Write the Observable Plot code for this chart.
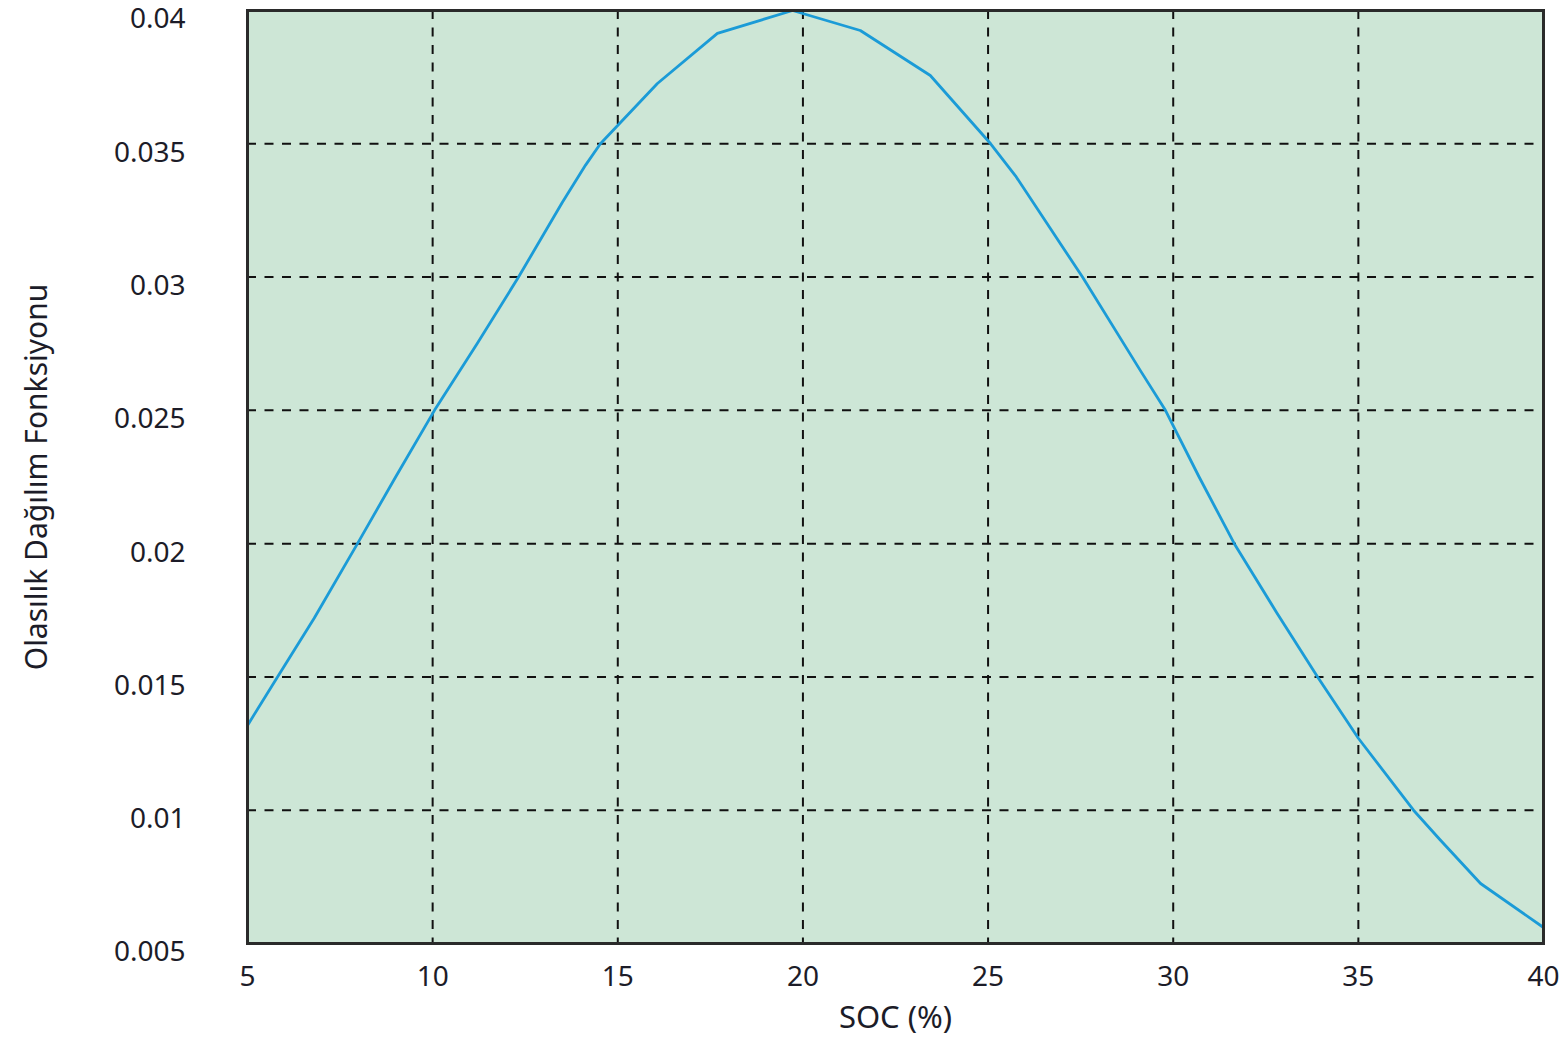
<!DOCTYPE html>
<html>
<head>
<meta charset="utf-8">
<script src="https://cdn.jsdelivr.net/npm/d3@7"></script>
<script src="https://cdn.jsdelivr.net/npm/@observablehq/plot@0.6"></script>
<style>
  html, body { margin: 0; padding: 0; background: #fff; }
  #chart { width: 1566px; height: 1046px; }
</style>
</head>
<body>
<div id="chart"></div>
<script>
// Data
const socValues = [5, 5.81, 6.8, 7.97, 9.0, 10.05, 11.2, 12.32, 13.5, 14.13, 14.53, 16.07, 17.69, 19.72, 21.55, 23.44, 25.07, 25.74, 27.55, 29.11, 29.79, 30.7, 31.65, 32.8, 33.9, 35.0, 36.49, 37.2, 38.3, 40];
const pdfValues = [0.01318, 0.015, 0.0172, 0.02, 0.0225, 0.025, 0.0275, 0.03, 0.0328, 0.0342, 0.035, 0.03726, 0.03914, 0.04, 0.03925, 0.03756, 0.035, 0.0338, 0.03, 0.0265, 0.025, 0.0225, 0.02, 0.0174, 0.015, 0.0127, 0.01, 0.0089, 0.00725, 0.0056];
const xTicks = [5, 10, 15, 20, 25, 30, 35, 40];
const yTicks = [0.005, 0.01, 0.015, 0.02, 0.025, 0.03, 0.035, 0.04];
const yTickLabels = ["0.005", "0.01", "0.015", "0.02", "0.025", "0.03", "0.035", "0.04"];
const xLabel = "SOC (%)";
const yLabel = "Olasılık Dağılım Fonksiyonu";

const data = socValues.map((x, i) => ({x, y: pdfValues[i]}));
const xGrid = xTicks.slice(1, -1);
const yGrid = yTicks.slice(1, -1);

const font = "'Noto Sans', sans-serif";
const textColor = "#1c1c28";

const chart = Plot.plot({
  width: 1566,
  height: 1046,
  marginLeft: 247,
  marginRight: 23,
  marginTop: 10,
  marginBottom: 103,
  style: { fontFamily: font, background: "#fff", color: textColor, overflow: "visible" },
  x: { domain: [5, 40] },
  y: { domain: [0.005, 0.04] },
  marks: [
    Plot.frame({ fill: "#cde6d6", stroke: null }),
    Plot.ruleX(xGrid, { stroke: "#111", strokeWidth: 2, strokeDasharray: "9,8.5" }),
    Plot.ruleY(yGrid, { stroke: "#111", strokeWidth: 2, strokeDasharray: "9,8.5" }),
    Plot.line(data, { x: "x", y: "y", stroke: "#1b9bd7", strokeWidth: 2.8 }),
    Plot.frame({ stroke: "#2a2a2a", strokeWidth: 3 }),
    Plot.axisX(xTicks, {
      tickSize: 0, tickPadding: 23, fontSize: 28, label: null,
      tickFormat: d => String(d), fill: textColor
    }),
    Plot.axisY(yTicks, {
      tickSize: 0, tickPadding: 62, fontSize: 28, label: null,
      tickFormat: d => yTickLabels[yTicks.indexOf(d)], fill: textColor, dy: 9
    }),
    Plot.text([xLabel], {
      frameAnchor: "bottom", dy: 84, fontSize: 31, fill: textColor, text: d => d
    }),
    Plot.text([yLabel], {
      frameAnchor: "left", textAnchor: "middle", dx: -210, rotate: -90,
      fontSize: 30, fill: textColor, text: d => d
    })
  ]
});

document.getElementById("chart").appendChild(chart);
</script>
</body>
</html>
